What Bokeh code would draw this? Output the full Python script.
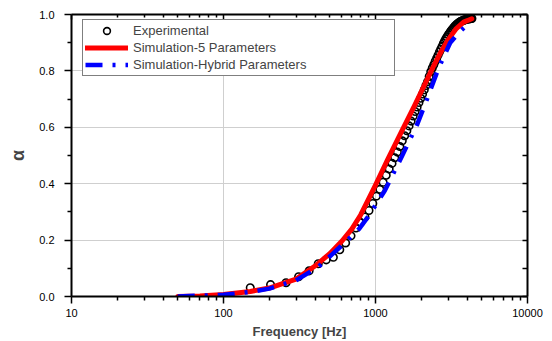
from bokeh.plotting import figure
from bokeh.models import (Range1d, LogAxis, LinearAxis, FixedTicker, PrintfTickFormatter,
                          CustomJSTickFormatter, Legend, LegendItem)
from bokeh.embed import file_html
from bokeh.resources import INLINE

# ---- data ----
exp_freq = [150, 204, 258, 312, 366, 420, 474, 528, 582, 636,
            690, 744, 798, 852, 906, 960, 1014, 1068, 1122, 1176,
            1230, 1284, 1338, 1392, 1446, 1500, 1554, 1608, 1662, 1716,
            1770, 1824, 1878, 1932, 1986, 2040, 2094, 2148, 2202, 2256,
            2310, 2364, 2418, 2472, 2526, 2580, 2634, 2688, 2742, 2796,
            2850, 2904, 2958, 3012, 3066, 3120, 3174, 3228, 3282, 3336,
            3390, 3444, 3498, 3552, 3606, 3660, 3714, 3768, 3822, 3876,
            3930, 3984, 4038, 4092, 4146, 4200, 4254, 4308]
exp_alpha = [0.031, 0.042, 0.049, 0.070, 0.091, 0.116, 0.130, 0.139, 0.166, 0.190,
             0.215, 0.243, 0.262, 0.282, 0.305, 0.330, 0.356, 0.380, 0.405, 0.430,
             0.452, 0.472, 0.492, 0.512, 0.532, 0.552, 0.570, 0.588, 0.605, 0.622,
             0.640, 0.656, 0.672, 0.688, 0.703, 0.718, 0.733, 0.748, 0.762, 0.780,
             0.797, 0.810, 0.822, 0.834, 0.845, 0.856, 0.867, 0.877, 0.887, 0.897,
             0.906, 0.914, 0.921, 0.928, 0.934, 0.940, 0.945, 0.950, 0.955, 0.959,
             0.963, 0.966, 0.969, 0.972, 0.974, 0.976, 0.978, 0.979, 0.980, 0.981,
             0.982, 0.983, 0.984, 0.984, 0.985, 0.985, 0.986, 0.986]

sim5_freq = [50, 70, 100, 150, 200, 300, 400, 500, 600, 700, 800, 900, 1000,
             1200, 1500, 1800, 2100, 2400, 2700, 3000, 3400, 3800, 4300]
sim5_alpha = [0.000, 0.002, 0.007, 0.018, 0.030, 0.062, 0.108, 0.152, 0.196, 0.240,
              0.290, 0.345, 0.395, 0.485, 0.590, 0.675, 0.750, 0.815, 0.868, 0.910,
              0.950, 0.973, 0.985]

hyb_freq = [50, 100, 150, 200, 300, 420, 520, 640, 780, 900, 1150, 1500, 1880, 2200,
            2600, 3100, 3600, 4250]
hyb_alpha = [0.000, 0.006, 0.016, 0.028, 0.057, 0.105, 0.150, 0.195, 0.240, 0.285,
             0.375, 0.500, 0.610, 0.705, 0.810, 0.900, 0.940, 0.975]

x_major = [10, 100, 1000, 10000]
y_major = [0.0, 0.2, 0.4, 0.6, 0.8, 1.0]
y_minor = [0.1, 0.3, 0.5, 0.7, 0.9]

labels = ["Experimental", "Simulation-5 Parameters", "Simulation-Hybrid Parameters"]

FONT = "Liberation Sans"

p = figure(x_axis_type="log", x_range=Range1d(10, 10000), y_range=Range1d(0, 1.0),
           frame_width=456, frame_height=282,
           min_border_left=71, min_border_right=20, min_border_top=14, min_border_bottom=44,
           output_backend="svg", toolbar_location=None)
p.outline_line_color = None
p.background_fill_color = "white"

x_minor = [m * 10 ** e for e in (1, 2, 3) for m in range(2, 10)]
xticker = FixedTicker(ticks=x_major, minor_ticks=x_minor)
yticker = FixedTicker(ticks=y_major, minor_ticks=y_minor)

def style_axis(ax):
    ax.axis_line_width = 2
    ax.axis_line_color = "black"
    ax.major_tick_line_width = 1.5
    ax.minor_tick_line_width = 1.5
    ax.major_tick_line_color = "black"
    ax.minor_tick_line_color = "black"
    ax.major_label_text_font = FONT
    ax.major_label_text_font_size = "11px"
    ax.major_label_text_color = "black"

xa = p.xaxis[0]
xa.ticker = xticker
xa.formatter = PrintfTickFormatter(format="%d")
style_axis(xa)
xa.major_tick_out = 7
xa.major_tick_in = 0
xa.minor_tick_out = 4
xa.minor_tick_in = 0
xa.major_label_standoff = 5
xa.axis_label = "Frequency [Hz]"
xa.axis_label_text_font = FONT
xa.axis_label_text_font_style = "bold"
xa.axis_label_text_font_size = "13px"
xa.axis_label_standoff = 4

ya = p.yaxis[0]
ya.ticker = yticker
ya.formatter = PrintfTickFormatter(format="%.1f")
style_axis(ya)
ya.major_tick_out = 7
ya.major_tick_in = 0
ya.minor_tick_out = 4
ya.minor_tick_in = 0
ya.major_label_standoff = 10
ya.axis_label = "α"
ya.axis_label_text_font = FONT
ya.axis_label_text_font_style = "bold"
ya.axis_label_text_font_size = "18px"
ya.axis_label_standoff = 8

empty = CustomJSTickFormatter(code="return ''")
top = LogAxis(ticker=xticker, formatter=empty)
style_axis(top)
top.major_tick_in = 5
top.major_tick_out = 0
top.minor_tick_in = 3
top.minor_tick_out = 0
top.major_label_standoff = 0
p.add_layout(top, "above")

right = LinearAxis(ticker=yticker, formatter=empty)
style_axis(right)
right.major_tick_in = 5
right.major_tick_out = 0
right.minor_tick_in = 5
right.minor_tick_out = 0
right.major_label_standoff = 0
p.add_layout(right, "right")

p.xgrid.ticker = FixedTicker(ticks=[100, 1000])
p.ygrid.ticker = FixedTicker(ticks=[0.2, 0.4, 0.6, 0.8])
for g in (p.xgrid, p.ygrid):
    g.grid_line_color = "#cfcfcf"
    g.grid_line_width = 1

r_exp = p.scatter(exp_freq, exp_alpha, marker="circle", size=7.5, line_color="black",
                  line_width=1.6, fill_color=None)
r_sim5 = p.line(sim5_freq, sim5_alpha, line_color="#ff0000", line_width=5,
                line_cap="round", line_join="round")
r_hyb = p.line(hyb_freq, hyb_alpha, line_color="#0000ff", line_width=4.5,
               line_dash="17 10 3 10")

legend = Legend(items=[LegendItem(label=labels[0], renderers=[r_exp]),
                       LegendItem(label=labels[1], renderers=[r_sim5]),
                       LegendItem(label=labels[2], renderers=[r_hyb])],
                location=(11, 220), margin=0, padding=2, spacing=0,
                glyph_width=43, glyph_height=17, label_height=17, label_width=259,
                label_standoff=5, label_text_font=FONT, label_text_font_size="13px",
                border_line_color="black", border_line_width=1,
                background_fill_color="white", background_fill_alpha=1.0)
p.add_layout(legend)

open("out.html", "w").write(file_html(p, INLINE))
